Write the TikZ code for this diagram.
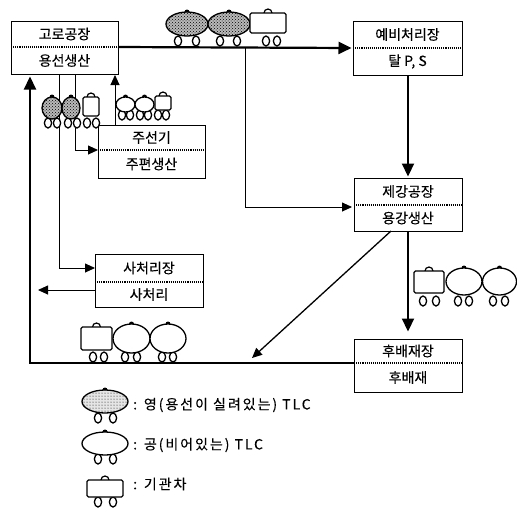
\documentclass[tikz,border=0pt]{standalone}
\usepackage{fontspec}
\setmainfont{Noto Sans CJK KR}
\newfontfamily\labelfont[FakeBold=0.25]{Noto Sans CJK KR}
\newfontfamily\legendfont[FakeBold=0.2,LetterSpace=14]{Noto Sans CJK KR}
\usetikzlibrary{arrows.meta,patterns}
\tikzset{
  procbox/.style={draw,line width=1.1pt,rectangle,minimum width=#1,inner sep=0pt,anchor=north west},
  boxlabel/.style={font=\labelfont\fontsize{14}{14}\selectfont,inner sep=0pt},
  legendlabel/.style={font=\legendfont\fontsize{14}{14}\selectfont,inner sep=0pt,anchor=west},
  midline/.style={densely dotted,line width=1.1pt},
  heavy/.style={line width=2.2pt,shorten >=1.5pt,-{Triangle[length=13pt,width=12pt]}},
  medium/.style={line width=1.3pt,-{Triangle[length=10pt,width=9pt]}},
  light/.style={line width=.9pt,-{Triangle[length=10pt,width=9pt]}},
  carpart/.style={draw,line width=1.3pt,fill=white},
  full/.style={carpart,fill=gray!55,postaction={pattern=crosshatch dots}},
  fulllight/.style={carpart,fill=gray!20,postaction={pattern=dots}},
}
% cx cy rx ry style wheel1 wheel2 wheely
\newcommand{\tankcar}[8]{%
  \fill (#1,#2-#4) circle (2.5pt);
  \draw[carpart] (#6,#8) ellipse (3.6pt and 5pt);
  \draw[carpart] (#7,#8) ellipse (3.6pt and 5pt);
  \draw[#5] (#1,#2) ellipse ({#3pt} and {#4pt});
}
% x1 y1 x2 y2 wheel1 wheel2 wheely
\newcommand{\loco}[7]{%
  \draw[line width=1.2pt] ({(#1+#3)/2},#2) ++(-4,0) arc (180:0:4pt);
  \draw[carpart] (#5,#7) ellipse (3.6pt and 5pt);
  \draw[carpart] (#6,#7) ellipse (3.6pt and 5pt);
  \draw[carpart,rounded corners=1.5pt] (#1,#2) rectangle (#3,#4);
}
% name x1 y1 x2 y2 ymid line1 line2
\newcommand{\procnode}[8]{%
  \node[procbox=#4pt-#2pt,minimum height=#5pt-#3pt] (#1) at (#2,#3) {};
  \coordinate (#1w) at (#2,#6);
  \coordinate (#1e) at (#4,#6);
  \draw[midline] (#1w) -- (#1e);
  \node[boxlabel] (#1top) at ({(#2+#4)/2},{(#3+#6)/2}) {#7};
  \node[boxlabel] (#1bot) at ({(#2+#4)/2},{(#5+#6)/2}) {#8};
}
\begin{document}
\begin{tikzpicture}[x=1pt,y=-1pt]
\useasboundingbox (0,0) rectangle (517,507);
\procnode{blast}{11}{21}{118}{74}{47}{고로공장}{용선생산}
\procnode{pre}{353}{21}{462}{75}{48}{예비처리장}{탈 P, S}
\procnode{steel}{354}{178}{462}{231}{205}{제강공장}{용강생산}
\procnode{post}{354}{339}{462}{392}{363}{후배재장}{후배재}
\procnode{pig}{98}{125}{205}{178}{150}{주선기}{주편생산}
\procnode{treat}{95}{254}{203}{307}{282}{사처리장}{사처리}

\coordinate (branch) at (245,47);
\coordinate (branchb) at (245,207);
\coordinate (steelin) at (352,207);
\coordinate (preout) at (408,75);
\coordinate (prein) at (408,178);
\coordinate (steelout) at (408,231);
\coordinate (postin) at (408,333);
\coordinate (diagstart) at (391,231);
\coordinate (diagend) at (252,358);
\coordinate (corner) at (30,363);
\coordinate (blastin) at (30,75);
\coordinate (t1a) at (59,74);
\coordinate (t1b) at (59,268);
\coordinate (t1c) at (95,268);
\coordinate (p1a) at (75,74);
\coordinate (p1b) at (75,150);
\coordinate (pigup) at (115,125);
\coordinate (blastup) at (115,75);
\coordinate (treatout) at (95,290);
\coordinate (treatend) at (38,290);

\draw[heavy] (blaste) -- (prew);
\draw[light] (branch) -- (branchb) -- (steelin);
\draw[heavy] (preout) -- (prein);
\draw[heavy] (steelout) -- (postin);
\draw[medium] (diagstart) -- (diagend);
\draw[heavy] (postw) -- (corner) -- (blastin);
\draw[light] (t1a) -- (t1b) -- (t1c);
\draw[light] (p1a) -- (p1b) -- (pigw);
\draw[light] (pigup) -- (blastup);
\draw[light] (treatout) -- (treatend);

% top train
\tankcar{187}{24}{21}{12}{full}{178}{196}{41}
\tankcar{229}{24}{21}{12}{full}{220}{237}{41}
\loco{250}{13}{286}{33}{266}{277}{41}
% vertical-side train
\tankcar{52}{108}{10}{11}{full}{48}{57}{123}
\tankcar{71}{108}{9}{11}{full}{68}{77}{123}
\loco{83}{97}{99}{116}{87}{96}{123}
% pig-machine train
\tankcar{125.5}{104.5}{9.5}{7.5}{carpart}{122}{130}{115}
\tankcar{144.5}{104.5}{9.5}{7.5}{carpart}{140}{148}{115}
\loco{155}{96}{171}{110}{158}{166}{115}
% return train
\loco{81}{327}{112}{350}{93}{104}{357}
\tankcar{131.5}{338.5}{18.5}{14.5}{carpart}{125}{137}{357}
\tankcar{168}{338.5}{18}{14.5}{carpart}{162}{173}{357}
% right train
\loco{414}{271}{444}{293}{423}{436}{301}
\tankcar{464}{281.5}{18}{13.5}{carpart}{458}{469}{301}
\tankcar{499.5}{281.5}{17}{13.5}{carpart}{493}{505}{301}
% legend
\tankcar{105}{401.5}{23}{11.5}{fulllight}{98}{113}{418}
\tankcar{105}{443.5}{23}{11.5}{carpart}{98}{113}{459}
\loco{87}{480}{123}{497}{98}{113}{502}
\node[legendlabel] (lg1) at (133,405) {: 영(용선이 실려있는) TLC};
\node[legendlabel] (lg2) at (133,445) {: 공(비어있는) TLC};
\node[legendlabel] (lg3) at (133,484) {: 기관차};
\end{tikzpicture}
\end{document}
